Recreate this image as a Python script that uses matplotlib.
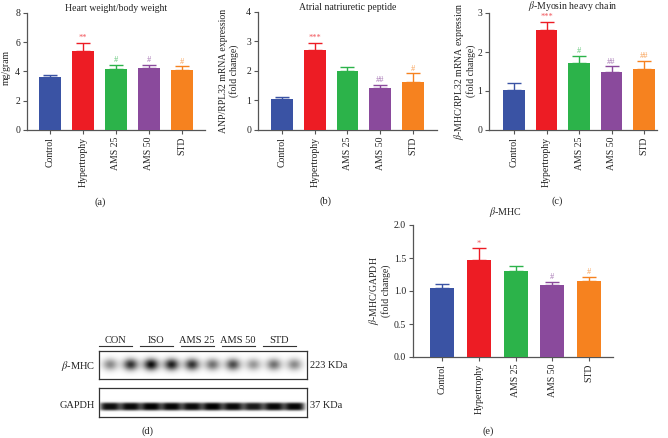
import numpy as np
import matplotlib
matplotlib.use("Agg")
import matplotlib.pyplot as plt
import matplotlib.transforms as mtransforms

plt.rcParams['font.family'] = ['Liberation Serif', 'DejaVu Serif']
plt.rcParams['mathtext.fontset'] = 'stix'

# ---------------- data ----------------
categories = ["Control", "Hypertrophy", "AMS 25", "AMS 50", "STD"]
colors = ["#3a53a4", "#ed1c24", "#2cb34a", "#8a4a9c", "#f6821f"]

hw_vals = [3.59, 5.41, 4.18, 4.25, 4.11]
hw_err = [0.16, 0.54, 0.27, 0.20, 0.25]
hw_marks = ["", "**", "#", "#", "#"]

anp_vals = [1.05, 2.72, 2.01, 1.41, 1.63]
anp_err = [0.06, 0.23, 0.13, 0.11, 0.29]
anp_marks = ["", "***", "", "##", "#"]

mhc_vals = [1.03, 2.56, 1.73, 1.48, 1.56]
mhc_err = [0.18, 0.21, 0.17, 0.15, 0.22]
mhc_marks = ["", "***", "#", "##", "##"]

wb_vals = [1.045, 1.47, 1.30, 1.09, 1.15]
wb_err = [0.055, 0.18, 0.08, 0.05, 0.065]
wb_marks = ["", "*", "", "#", "#"]

blot_groups = ["CON", "ISO", "AMS 25", "AMS 50", "STD"]
blot_mhc = [0.45, 0.8, 0.95, 0.88, 0.8, 0.55, 0.7, 0.4, 0.55, 0.45]
blot_gapdh = [0.95, 0.97, 1.0, 0.98, 0.96, 1.0, 0.97, 0.9, 0.97, 0.98]

W, H = 668, 438
fig = plt.figure(figsize=(W / 100, H / 100), dpi=100)


def rect(l, t, r, b):
    return [l / W, 1 - b / H, (r - l) / W, (b - t) / H]


def ftext(x, y, s, **kw):
    fig.text(x / W, 1 - y / H, s, **kw)


AXC = "#555555"


def bar_panel(r, vals, errs, marks, ymax, yticks, ytl, xlim, width=0.67, title=None):
    ax = fig.add_axes(rect(*r))
    x = np.arange(len(vals))
    ax.bar(x, vals, width, color=colors, zorder=3, linewidth=0)
    for i in x:
        ax.errorbar(x[i], vals[i], yerr=[[0], [errs[i]]], fmt='none', ecolor=colors[i],
                    elinewidth=1.0, capsize=5, capthick=1.0, zorder=2)
        if marks[i]:
            ax.annotate(marks[i], (x[i], vals[i] + errs[i]), xytext=(0, 0.5),
                        textcoords='offset points', ha='center', va='bottom',
                        fontsize=6, color=colors[i], alpha=0.75)
    ax.set_xlim(*xlim)
    ax.set_ylim(0, ymax)
    ax.set_yticks(yticks)
    ax.set_yticklabels(ytl, fontsize=7)
    ax.set_xticks(x)
    ax.set_xticklabels(categories, rotation=90, fontsize=7)
    for s in ['top', 'right']:
        ax.spines[s].set_visible(False)
    for s in ['left', 'bottom']:
        ax.spines[s].set_color(AXC)
        ax.spines[s].set_linewidth(0.9)
    ax.tick_params(direction='out', length=3, width=0.8, color=AXC, pad=2, labelcolor='#222')
    if title:
        ax.set_title(title, fontsize=7, pad=1.5, color='#222')
    return ax


# (a)
bar_panel((27, 13, 205, 130), hw_vals, hw_err, hw_marks, 8, [0, 2, 4, 6, 8],
          ["0", "2", "4", "6", "8"], (-0.7, 4.7), title="Heart weight/body weight")
ftext(6, 67, "mg/gram", rotation=90, ha='center', va='center', fontsize=7, color='#222')
ftext(100, 202, "(a)", ha='center', va='center', fontsize=7.5, color='#222')

# (b)
bar_panel((258, 12, 437, 130), anp_vals, anp_err, anp_marks, 4, [0, 1, 2, 3, 4],
          ["0", "1", "2", "3", "4"], (-0.73, 4.73), title="Atrial natriuretic peptide")
ftext(229, 71, "ANP/RPL32 mRNA expression\n(fold change)", rotation=90, ha='center',
      va='center', fontsize=7, linespacing=1.05, color='#222', multialignment='center')
ftext(325, 201, "(b)", ha='center', va='center', fontsize=7.5, color='#222')

# (c)
bar_panel((489, 13, 657, 130), mhc_vals, mhc_err, mhc_marks, 3, [0, 1, 2, 3],
          ["0", "1", "2", "3"], (-0.77, 4.4), title=r"$\beta$-Myosin heavy chain")
ftext(464, 71, r"$\beta$-MHC/RPL32 mRNA expression" + "\n(fold change)", rotation=90,
      ha='center', va='center', fontsize=7, linespacing=1.05, color='#222',
      multialignment='center')
ftext(557, 201, "(c)", ha='center', va='center', fontsize=7.5, color='#222')

# (e)
bar_panel((413, 225, 613, 357), wb_vals, wb_err, wb_marks, 2.0,
          [0, 0.5, 1.0, 1.5, 2.0], ["0.0", "0.5", "1.0", "1.5", "2.0"], (-0.79, 4.65),
          width=0.65)
ftext(505, 212, r"$\beta$-MHC", ha='center', va='center', fontsize=7.2, color='#222')
ftext(379, 291, r"$\beta$-MHC/GAPDH" + "\n(fold change)", rotation=90, ha='center',
      va='center', fontsize=7, linespacing=1.05, color='#222', multialignment='center')
ftext(488, 431, "(e)", ha='center', va='center', fontsize=7.5, color='#222')

# (d) western blot
lane_xlim = (-0.54, 9.61)


def blot(r, intens, sx, sy, yc, sharp, gain):
    ax = fig.add_axes(rect(*r))
    xs = np.linspace(lane_xlim[0], lane_xlim[1], 600)
    ys = np.linspace(0, 1, 120)
    X, Y = np.meshgrid(xs, ys)
    img = np.zeros_like(X)
    for k, v in enumerate(intens):
        dx = np.abs(X - k) / sx
        dy = np.abs(Y - yc) / sy
        img += v * np.exp(-(dx ** sharp) - (dy ** sharp))
    img = np.clip(img * gain, 0, 1)
    ax.imshow(img, extent=(lane_xlim[0], lane_xlim[1], 0, 1), origin='lower',
              cmap='gray_r', vmin=0, vmax=1.0, aspect='auto', interpolation='bilinear')
    ax.set_xlim(*lane_xlim)
    ax.set_ylim(0, 1)
    ax.set_xticks([])
    ax.set_yticks([])
    for s in ax.spines.values():
        s.set_color('#333')
        s.set_linewidth(0.9)
    return ax


ax_m = blot((99, 351, 307, 379), blot_mhc, 0.36, 0.2, 0.5, 2, 1.0)
ax_g = blot((99, 388, 307, 417), blot_gapdh, 0.5, 0.14, 0.36, 4, 1.0)

trans = mtransforms.blended_transform_factory(ax_m.transData, ax_m.transAxes)
for g, name in enumerate(blot_groups):
    c = 2 * g + 0.5 - 0.25
    ax_m.plot([c - 0.8, c + 0.8], [1.18, 1.18], transform=trans, color='#333',
              lw=0.8, clip_on=False)
    ax_m.text(c, 1.22, name, transform=trans, ha='center', va='bottom', fontsize=7.5,
              color='#222')

ftext(95, 366, r"$\beta$-MHC", ha='right', va='center', fontsize=7.5, color='#222')
ftext(95, 406, "GAPDH", ha='right', va='center', fontsize=7.5, color='#222')
ftext(310, 366, "223 KDa", ha='left', va='center', fontsize=7.5, color='#222')
ftext(310, 405, "37 KDa", ha='left', va='center', fontsize=7.5, color='#222')
ftext(147, 431, "(d)", ha='center', va='center', fontsize=7.5, color='#222')

fig.savefig("out.png", dpi=100)
